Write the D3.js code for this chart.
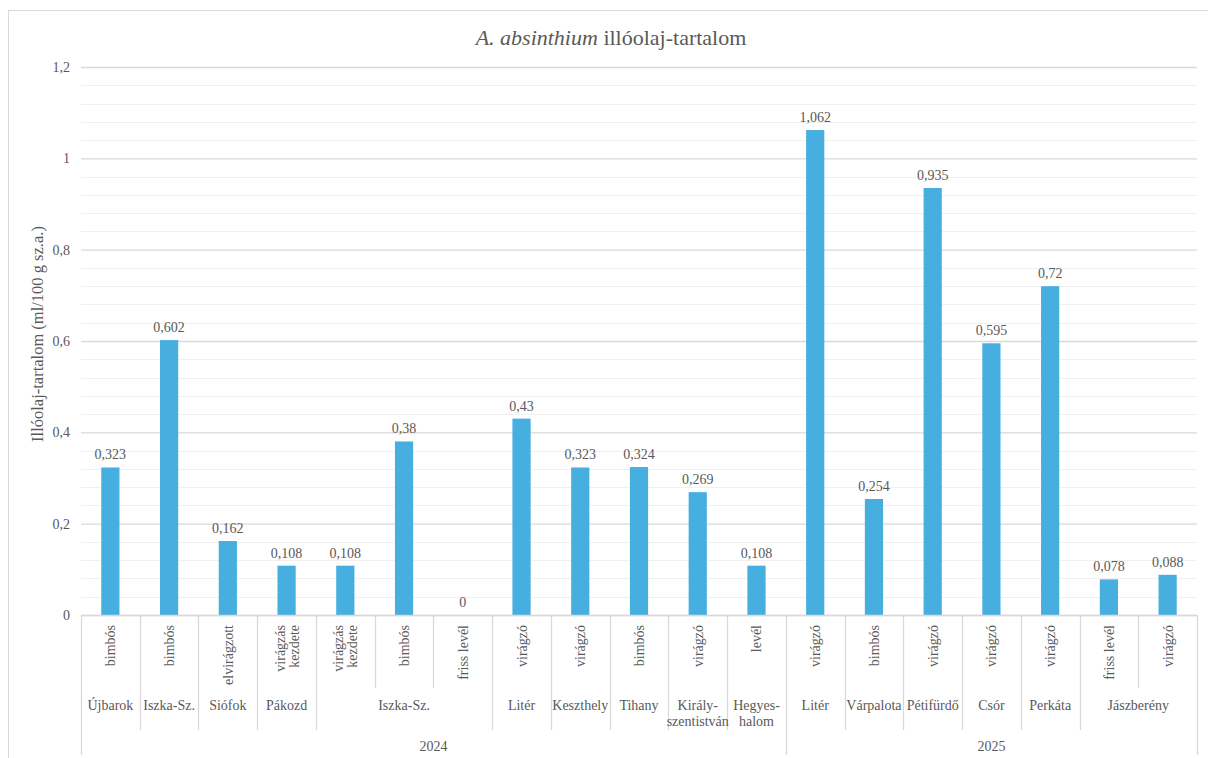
<!DOCTYPE html>
<html>
<head>
<meta charset="utf-8">
<script src="https://cdn.jsdelivr.net/npm/d3@7"></script>
<style>
  html, body { margin: 0; padding: 0; background: #fff; }
  svg { display: block; }
</style>
</head>
<body>
<svg id="chart" width="1208" height="758"></svg>
<script>
// Essential-oil content of A. absinthium samples (ml/100 g dry matter)
const years  = ["2024","2024","2024","2024","2024","2024","2024","2024","2024","2024","2024","2024",
                "2025","2025","2025","2025","2025","2025","2025"];
const sites  = ["Újbarok","Iszka-Sz.","Siófok","Pákozd","Iszka-Sz.","Iszka-Sz.","Iszka-Sz.","Litér",
                "Keszthely","Tihany","Király-\nszentistván","Hegyes-\nhalom",
                "Litér","Várpalota","Pétifürdő","Csór","Perkáta","Jászberény","Jászberény"];
const stages = ["bimbós","bimbós","elvirágzott","virágzás\nkezdete","virágzás\nkezdete","bimbós","friss levél",
                "virágzó","virágzó","bimbós","virágzó","levél",
                "virágzó","bimbós","virágzó","virágzó","virágzó","friss levél","virágzó"];
const values = [0.323, 0.602, 0.162, 0.108, 0.108, 0.38, 0, 0.43, 0.323, 0.324, 0.269, 0.108,
                1.062, 0.254, 0.935, 0.595, 0.72, 0.078, 0.088];
const yTicks = [0, 0.2, 0.4, 0.6, 0.8, 1, 1.2];

const FONT = "'Liberation Serif', 'Times New Roman', Tinos, 'DejaVu Serif', serif";
const INK = "#595959";

const svg = d3.select("#chart")
  .attr("font-family", FONT).style("font-family", FONT);
const plot = { left: 81, right: 1197, top: 67, bottom: 615 };
const band1 = 688, band2 = 730, band3 = 755;
const barColor = "#47AFE0";
const fmt = v => String(v).replace(".", ",");

// outer frame
svg.append("rect").attr("x", 8.5).attr("y", 10.5).attr("width", 1220).attr("height", 770)
  .attr("fill", "none").attr("stroke", "#D9D9D9");

const idx = values.map((_, i) => i);
const x = d3.scaleBand().domain(idx).range([plot.left, plot.right]).padding(0);
const y = d3.scaleLinear().domain([0, 1.2]).range([plot.bottom, plot.top]);

// minor gridlines
const minor = d3.range(0, 1.2001, 0.04).filter(v => Math.abs(v / 0.2 - Math.round(v / 0.2)) > 1e-6);
svg.append("g").selectAll("line").data(minor).join("line")
  .attr("x1", plot.left).attr("x2", plot.right)
  .attr("y1", d => Math.round(y(d)) + 0.5).attr("y2", d => Math.round(y(d)) + 0.5)
  .attr("stroke", "#F0F0F0").attr("stroke-width", 1);

// y axis with major gridlines
const yAxis = d3.axisLeft(y).tickValues(yTicks).tickFormat(fmt)
  .tickSize(-(plot.right - plot.left)).tickPadding(11);
const gy = svg.append("g").attr("transform", `translate(${plot.left},0)`).call(yAxis)
  .attr("font-family", FONT).attr("font-size", 14);
gy.select(".domain").remove();
gy.selectAll(".tick line").attr("stroke", "#D9D9D9").attr("stroke-width", 1.3);
gy.selectAll(".tick text").attr("fill", INK).style("font-family", FONT);

// bars
const bw = x.bandwidth() * 0.31;
svg.append("g").selectAll("rect").data(idx).join("rect")
  .attr("x", i => x(i) + (x.bandwidth() - bw) / 2)
  .attr("width", bw)
  .attr("y", i => y(values[i]))
  .attr("height", i => y(0) - y(values[i]))
  .attr("fill", barColor);

// value labels
svg.append("g").selectAll("text").data(idx).join("text")
  .attr("x", i => x(i) + x.bandwidth() / 2)
  .attr("y", i => y(values[i]) - 8)
  .attr("text-anchor", "middle").attr("font-size", 14).attr("fill", INK)
  .text(i => fmt(values[i]));

// category axis baseline
svg.append("line").attr("x1", plot.left).attr("x2", plot.right)
  .attr("y1", plot.bottom + 0.5).attr("y2", plot.bottom + 0.5)
  .attr("stroke", "#D9D9D9").attr("stroke-width", 1.3);

// groups for the second and third axis levels
function runs(keyFn) {
  const out = [];
  idx.forEach(i => {
    const k = keyFn(i);
    const last = out[out.length - 1];
    if (last && last.key === k) last.end = i; else out.push({ key: k, start: i, end: i });
  });
  return out;
}
const siteGroups = runs(i => years[i] + "|" + sites[i]);
const yearGroups = runs(i => years[i]);

// separators: each boundary extends as deep as the highest level it splits
const boundaries = d3.range(0, values.length + 1).map(b => {
  let depth = band1;
  if (b === 0 || b === values.length || siteGroups.some(g => g.start === b)) depth = band2;
  if (b === 0 || b === values.length || yearGroups.some(g => g.start === b)) depth = band3;
  return { b, depth };
});
const xEdge = b => plot.left + b * x.step();
svg.append("g").selectAll("line").data(boundaries).join("line")
  .attr("x1", d => Math.round(xEdge(d.b)) + 0.5).attr("x2", d => Math.round(xEdge(d.b)) + 0.5)
  .attr("y1", plot.bottom).attr("y2", d => d.depth)
  .attr("stroke", "#D9D9D9").attr("stroke-width", 1.3);

// level 1: rotated stage labels
const st = svg.append("g").selectAll("text").data(idx).join("text")
  .attr("text-anchor", "end").attr("font-size", 14).attr("fill", INK)
  .attr("transform", i => `translate(${x(i) + x.bandwidth() / 2},${plot.bottom + 10}) rotate(-90)`);
st.each(function (i) {
  const lines = stages[i].split("\n");
  const t = d3.select(this);
  lines.forEach((ln, k) => {
    t.append("tspan").attr("x", 0)
      .attr("y", 5 + (k - (lines.length - 1) / 2) * 14)
      .text(ln);
  });
});

// level 2: site labels
const sg = svg.append("g").selectAll("text").data(siteGroups).join("text")
  .attr("text-anchor", "middle").attr("font-size", 14).attr("fill", INK);
sg.each(function (g) {
  const cx = (xEdge(g.start) + xEdge(g.end + 1)) / 2;
  const lines = g.key.split("|")[1].split("\n");
  const t = d3.select(this);
  lines.forEach((ln, k) => {
    t.append("tspan").attr("x", cx).attr("y", 710 + k * 15.5).text(ln);
  });
});

// level 3: year labels
svg.append("g").selectAll("text").data(yearGroups).join("text")
  .attr("x", g => (xEdge(g.start) + xEdge(g.end + 1)) / 2)
  .attr("y", 751).attr("text-anchor", "middle").attr("font-size", 14).attr("fill", INK)
  .text(g => g.key);

// y axis title
svg.append("text")
  .attr("transform", "translate(43,334) rotate(-90)")
  .attr("text-anchor", "middle").attr("font-size", 16.5).attr("fill", INK)
  .text("Illóolaj-tartalom (ml/100 g sz.a.)");

// chart title
const title = svg.append("text").attr("x", 611).attr("y", 45)
  .attr("text-anchor", "middle").attr("font-size", 22).attr("fill", INK);
title.append("tspan").attr("font-style", "italic").text("A. absinthium");
title.append("tspan").text(" illóolaj-tartalom");
</script>
</body>
</html>
